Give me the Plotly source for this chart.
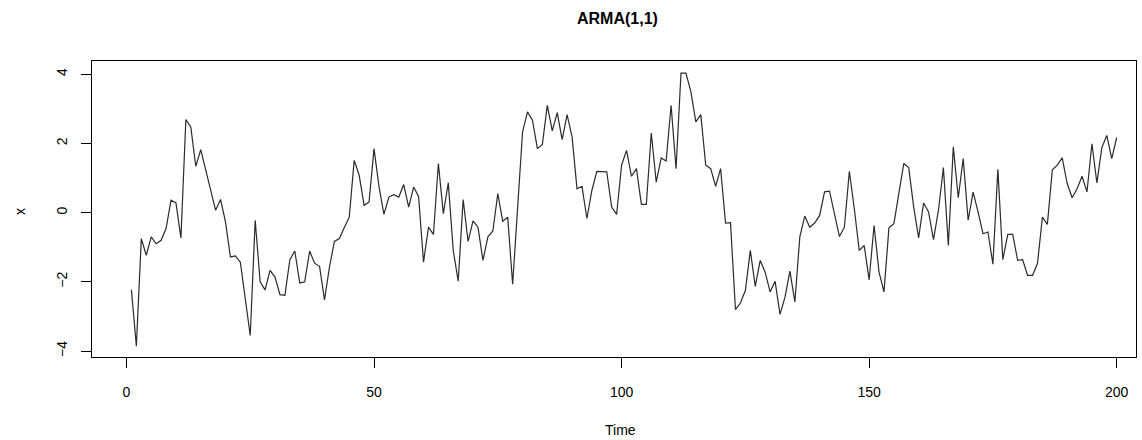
import plotly.graph_objects as go

time = list(range(1, 201))
x_vals = [
    -2.23, -3.86, -0.75, -1.23, -0.70, -0.90, -0.80, -0.46, 0.36, 0.28,
    -0.73, 2.69, 2.47, 1.34, 1.82, 1.22, 0.60, 0.07, 0.38, -0.27,
    -1.28, -1.25, -1.43, -2.53, -3.55, -0.22, -2.00, -2.23, -1.67, -1.86,
    -2.37, -2.39, -1.36, -1.11, -2.03, -2.00, -1.11, -1.46, -1.55, -2.52,
    -1.57, -0.83, -0.75, -0.43, -0.13, 1.51, 1.08, 0.21, 0.31, 1.85,
    0.76, -0.05, 0.45, 0.52, 0.45, 0.81, 0.16, 0.74, 0.47, -1.43,
    -0.42, -0.63, 1.42, -0.03, 0.86, -1.09, -1.98, 0.38, -0.83, -0.24,
    -0.42, -1.38, -0.70, -0.53, 0.55, -0.25, -0.13, -2.07, 0.05, 2.33,
    2.91, 2.67, 1.85, 1.97, 3.10, 2.36, 2.89, 2.11, 2.83, 2.19,
    0.69, 0.76, -0.17, 0.64, 1.19, 1.19, 1.18, 0.16, -0.05, 1.37,
    1.80, 1.05, 1.27, 0.24, 0.24, 2.30, 0.88, 1.58, 1.49, 3.10,
    1.27, 4.03, 4.03, 3.49, 2.62, 2.83, 1.37, 1.27, 0.76, 1.27,
    -0.30, -0.29, -2.80, -2.61, -2.25, -1.09, -2.13, -1.38, -1.72, -2.29,
    -1.98, -2.94, -2.45, -1.69, -2.58, -0.70, -0.10, -0.42, -0.30, -0.08,
    0.60, 0.62, -0.03, -0.69, -0.42, 1.19, 0.12, -1.09, -0.95, -1.94,
    -0.37, -1.72, -2.29, -0.44, -0.32, 0.55, 1.42, 1.30, 0.16, -0.73,
    0.28, 0.02, -0.78, 0.07, 1.30, -0.95, 1.90, 0.43, 1.56, -0.22,
    0.59, 0.02, -0.61, -0.56, -1.49, 1.25, -1.36, -0.63, -0.63, -1.38,
    -1.36, -1.81, -1.81, -1.47, -0.13, -0.34, 1.24, 1.37, 1.58, 0.84,
    0.43, 0.69, 1.05, 0.60, 1.99, 0.86, 1.88, 2.23, 1.56, 2.17,
]
x_ticks = [0, 50, 100, 150, 200]
y_ticks = [-4, -2, 0, 2, 4]

W, H = 1142, 440
L, R, T, B = 92, 1136, 61, 357

fig = go.Figure()
fig.add_trace(go.Scatter(x=time, y=x_vals, mode="lines",
                         line=dict(color="#2b2b2b", width=1.2),
                         showlegend=False, hoverinfo="skip"))

font = dict(family="Liberation Sans, Arial, sans-serif", size=14, color="black")

fig.update_layout(
    width=W, height=H,
    margin=dict(l=L, r=W - R, t=T, b=H - B, pad=0),
    paper_bgcolor="white", plot_bgcolor="white",
    font=font,
    xaxis=dict(range=[-6.96, 203.9], tickvals=x_ticks, ticks="outside",
               ticklen=10, tickwidth=1, tickcolor="black", ticklabelstandoff=12,
               showline=True, linecolor="black", linewidth=1, mirror=True,
               showgrid=False, zeroline=False, tickfont=font),
    yaxis=dict(range=[-4.17, 4.38], tickvals=y_ticks, ticks="outside",
               ticklen=10, tickwidth=1, tickcolor="black", tickangle=-90,
               ticklabelstandoff=8,
               showline=True, linecolor="black", linewidth=1, mirror=True,
               showgrid=False, zeroline=False, tickfont=font),
)

pw, ph = R - L, B - T
def px(v):
    return (v - L) / pw
def py(v):
    return (B - v) / ph

fig.add_annotation(text="<b>ARMA(1,1)</b>", x=px(617), y=py(18), xref="paper", yref="paper",
                   showarrow=False, xanchor="center", yanchor="middle",
                   font=dict(family="Liberation Sans, Arial, sans-serif", size=16, color="black"))
fig.add_annotation(text="Time", x=px(620), y=py(430), xref="paper", yref="paper",
                   showarrow=False, xanchor="center", yanchor="middle", font=font)
fig.add_annotation(text="x", x=px(20), y=py(212), xref="paper", yref="paper",
                   showarrow=False, xanchor="center", yanchor="middle", textangle=-90, font=font)

fig.write_html("out.html")
